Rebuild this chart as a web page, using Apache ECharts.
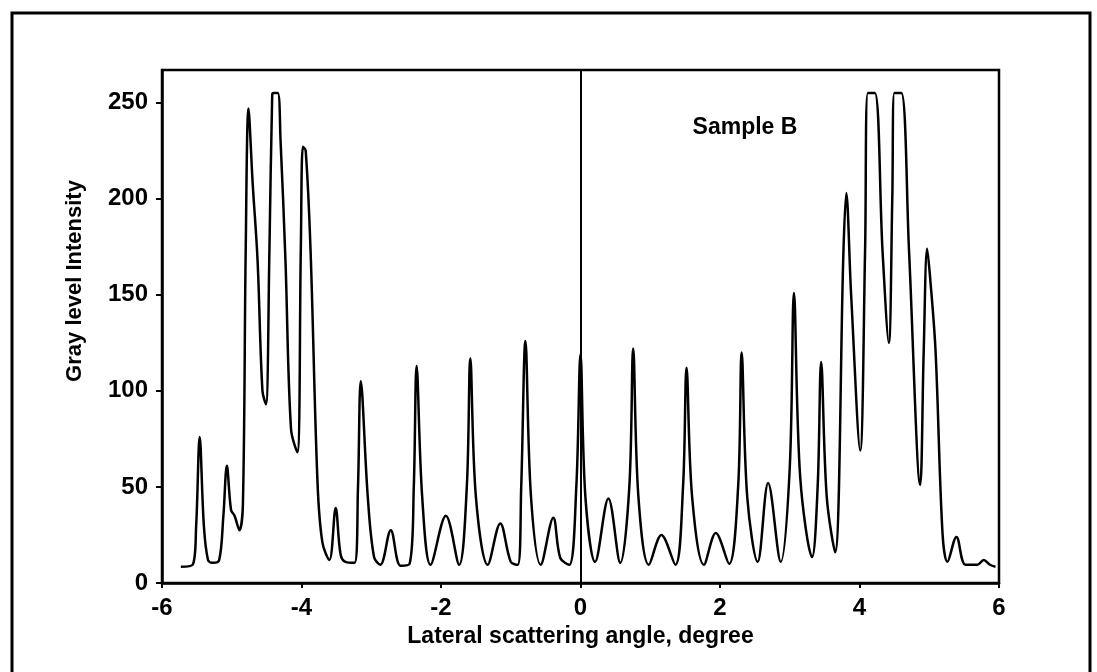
<!DOCTYPE html>
<html>
<head>
<meta charset="utf-8">
<title>Sample B</title>
<script src="https://cdn.jsdelivr.net/npm/echarts/dist/echarts.min.js"></script>
<style>
    html, body { margin: 0; padding: 0; background: #fff; }
    #scatter-chart { width: 1097px; height: 672px; }
</style>
</head>
<body>
<div id="scatter-chart"></div>
<script>
// Profile: angle (degree) and gray level
var angle = [
    -5.73, -5.56, -5.51, -5.46, -5.40, -5.34, -5.27, -5.18, -5.12, -5.07,
    -5.01, -4.96, -4.89, -4.84, -4.80, -4.76, -4.70, -4.63, -4.56, -4.51,
    -4.46, -4.42, -4.40, -4.34, -4.30, -4.23, -4.15, -4.06, -4.01, -3.98,
    -3.94, -3.87, -3.77, -3.70, -3.60, -3.51, -3.44, -3.37, -3.24, -3.19,
    -3.15, -3.05, -2.96, -2.87, -2.72, -2.58, -2.45, -2.39, -2.35, -2.27,
    -2.15, -1.93, -1.74, -1.63, -1.58, -1.50, -1.33, -1.15, -1.00, -0.90,
    -0.85, -0.79, -0.71, -0.57, -0.39, -0.29, -0.16, -0.06, 0.00, 0.07,
    0.21, 0.40, 0.57, 0.70, 0.755, 0.83, 0.98, 1.16, 1.36, 1.47,
    1.52, 1.60, 1.77, 1.94, 2.13, 2.26, 2.31, 2.39, 2.54, 2.69,
    2.87, 3.00, 3.06, 3.15, 3.32, 3.40, 3.45, 3.53, 3.65, 3.77,
    3.81, 3.88, 4.01, 4.08, 4.12, 4.22, 4.33, 4.42, 4.47, 4.50,
    4.60, 4.71, 4.87, 4.92, 4.97, 5.01, 5.09, 5.19, 5.26, 5.39,
    5.52, 5.69, 5.78, 5.87, 5.95
];
var intensity = [
    8.5, 9.5, 30, 76, 30, 12, 10.5, 12, 35, 61,
    38, 35, 27.5, 41, 173, 247, 208, 168, 100, 93,
    173, 254, 255, 255, 230, 168, 80, 68, 173, 227,
    225, 173, 52, 21, 12, 39, 15, 11, 10.5, 50,
    105, 45, 13.5, 9.5, 27.5, 9, 10, 50, 113, 45,
    9.5, 35, 9.5, 50, 117, 45, 9.5, 31, 11, 9.5,
    50, 126, 45, 9.5, 34, 13, 9.5, 50, 119, 45,
    11, 44, 10.5, 50, 122, 45, 9.5, 25, 9.5, 50,
    112, 45, 9.5, 26, 10, 50, 120, 45, 11, 52,
    11, 60, 151, 55, 13.5, 50, 115, 45, 16, 173,
    203, 150, 69, 173, 255, 255, 173, 125, 200, 255,
    255, 173, 51, 120, 174, 160, 121, 26, 11, 24,
    9.5, 9.5, 12, 9.5, 8.5
];
var xTicks = [-6, -4, -2, 0, 2, 4, 6];
var yTicks = [0, 50, 100, 150, 200, 250];

var textFont = '"Liberation Sans", Arial, sans-serif';

function scatterChart() {
    "use strict";
    var chart = echarts.init(document.getElementById('scatter-chart'));

    var points = [];
    for (var i = 0; i < angle.length; i++) {
        points.push([angle[i], intensity[i]]);
    }

    var option = {
        animation: false,
        backgroundColor: '#fff',

        // Outer frame, y title and sample tag
        graphic: [
            {
                type: 'rect',
                shape: { x: 12, y: 13, width: 1078, height: 720 },
                style: { fill: 'none', stroke: '#000', lineWidth: 3 }
            },
            {
                type: 'text',
                x: 75,
                y: 281,
                rotation: Math.PI / 2,
                style: {
                    text: 'Gray level Intensity',
                    font: 'bold 22px ' + textFont,
                    fill: '#000',
                    align: 'center',
                    verticalAlign: 'middle'
                }
            },
            {
                type: 'text',
                x: 745,
                y: 128,
                style: {
                    text: 'Sample B',
                    font: 'bold 23px ' + textFont,
                    fill: '#000',
                    align: 'center',
                    verticalAlign: 'middle'
                }
            }
        ],

        grid: {
            left: 162,
            right: 98,
            top: 70,
            bottom: 89,
            show: true,
            borderColor: '#000',
            borderWidth: 2.5
        },

        xAxis: {
            type: 'value',
            min: xTicks[0],
            max: xTicks[xTicks.length - 1],
            interval: 2,
            name: 'Lateral scattering angle, degree',
            nameLocation: 'middle',
            nameGap: 42,
            nameTextStyle: { color: '#000', fontSize: 23, fontWeight: 'bold', fontFamily: textFont },
            splitLine: { show: false },
            axisLine: { onZero: false, lineStyle: { color: '#000', width: 2.5 } },
            axisTick: { length: 5, lineStyle: { color: '#000', width: 2 } },
            axisLabel: {
                margin: 13,
                color: '#000',
                fontSize: 24,
                fontWeight: 'bold',
                fontFamily: textFont
            }
        },

        yAxis: {
            type: 'value',
            min: yTicks[0],
            max: 267,
            interval: 50,
            splitLine: { show: false },
            axisLine: { onZero: false, lineStyle: { color: '#000', width: 2.5 } },
            axisTick: { length: 6, lineStyle: { color: '#000', width: 2 } },
            axisLabel: {
                margin: 14,
                showMaxLabel: false,
                color: '#000',
                fontSize: 24,
                fontWeight: 'bold',
                fontFamily: textFont
            }
        },

        // Add series
        series: [{
            name: 'Sample B',
            type: 'line',
            data: points,
            showSymbol: false,
            symbol: 'none',
            smooth: 0.35,
            lineStyle: { color: '#000', width: 2.5 },
            markLine: {
                silent: true,
                symbol: ['none', 'none'],
                label: { show: false },
                lineStyle: { color: '#000', width: 2, type: 'solid' },
                data: [{ xAxis: 0 }]
            }
        }]
    };

    chart.setOption(option);
}

scatterChart();
</script>
</body>
</html>
